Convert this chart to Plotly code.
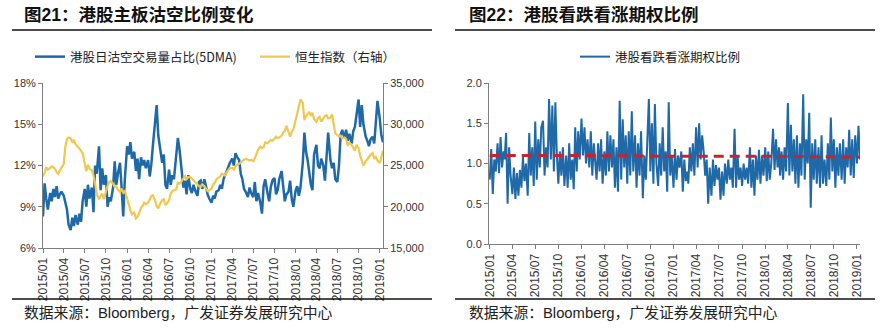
import plotly.graph_objects as go
import datetime as dt

W, H = 886, 328

# ---------------- data ----------------
# Fig 21: HK short-selling ratio (5DMA, %) - 4 readings per month, Jan 2015 .. mid Jan 2019
short_ratio = [
    # 2015
    8.3, 10.7, 9.6, 8.8,
    10.0, 9.4, 10.3, 9.7,
    10.5, 9.6, 9.9, 10.1,
    9.8, 9.2, 8.8, 7.7,
    7.3, 8.2, 7.6, 8.4,
    7.7, 8.5, 7.9, 9.4,
    10.3, 9.0, 10.6, 9.6,
    10.4, 8.6, 12.0, 11.4,
    13.4, 10.2, 11.8, 10.6,
    11.3, 9.0, 9.7, 9.4,
    10.4, 12.3, 10.6, 11.4,
    12.2, 10.4, 8.3, 11.0,
    # 2016
    13.4, 12.8, 13.7, 12.5,
    13.0, 11.6, 12.5, 11.0,
    12.6, 12.0, 12.4, 11.8,
    12.4, 11.2, 12.1, 13.5,
    15.0, 16.4, 14.2, 13.3,
    12.2, 12.8, 10.6, 10.3,
    11.7, 10.6, 11.3, 11.0,
    12.6, 14.0, 13.2, 11.8,
    10.4, 10.9, 9.9, 11.3,
    10.3, 10.0, 10.6, 10.2,
    9.8, 10.8, 10.9, 10.3,
    11.0, 10.5, 9.9, 9.6,
    # 2017
    9.3, 9.8, 9.6, 10.1,
    10.2, 10.6, 10.3, 11.0,
    11.3, 11.6, 12.0, 12.2,
    12.5, 12.0, 12.9, 12.6,
    12.4, 11.4, 11.0, 10.3,
    10.0, 9.7, 10.4, 10.0,
    9.7, 10.8, 9.4, 10.0,
    9.3, 8.5, 10.5, 11.0,
    10.0, 9.4, 10.4, 10.9,
    11.1, 9.9, 10.2, 11.0,
    11.6, 10.4, 9.4, 9.9,
    10.1, 10.9, 9.6, 9.0,
    # 2018
    10.2, 10.5, 9.8, 10.4,
    12.2, 14.4, 13.0, 12.4,
    11.6, 10.6, 10.2, 12.8,
    13.5, 12.0, 11.8, 12.5,
    12.0, 10.9, 12.6, 14.4,
    12.4, 11.8, 12.2, 11.0,
    10.8, 12.0, 14.2, 14.6,
    14.0, 14.6, 13.8, 14.3,
    13.6, 14.5, 14.8, 15.8,
    16.8, 14.8, 16.4, 15.0,
    14.1, 13.8, 13.4, 13.9,
    14.1, 13.6, 15.2, 16.7,
    # 2019
    15.4, 14.2, 13.7,
]

# Hang Seng Index (right axis) - same sampling
hsi = [
    # 2015
    23700, 24100, 24800, 24500,
    24700, 24900, 24800, 24600,
    24200, 24000, 24400, 24700,
    25200, 27300, 28200, 28400,
    28300, 27800, 28100, 27600,
    27300, 27100, 26800, 26500,
    25000, 24300, 25100, 24600,
    24400, 23800, 22800, 21500,
    21000, 21400, 21600, 20900,
    21900, 22500, 23000, 23100,
    22800, 22400, 22500, 22100,
    21800, 22200, 21700, 21900,
    # 2016
    21000, 20100, 19600, 19100,
    19300, 18600, 18800, 19200,
    19900, 20100, 20500, 20300,
    20500, 20900, 21300, 21400,
    20800, 20100, 19800, 20300,
    20800, 20900, 20200, 20400,
    20800, 21600, 21900, 22000,
    22100, 22900, 22800, 23000,
    23400, 23700, 23300, 23600,
    23600, 23400, 23200, 22900,
    22700, 22500, 22400, 22700,
    22500, 22100, 21900, 22000,
    # 2017
    22200, 22700, 22900, 23300,
    23500, 23700, 24000, 23900,
    23800, 24200, 24500, 24700,
    24700, 24500, 24900, 25100,
    25200, 25400, 25500, 25700,
    25800, 25700, 25600, 25700,
    25500, 25900, 26500, 26900,
    27300, 27100, 27200, 27800,
    27700, 27900, 28100, 28000,
    28200, 28500, 28300, 28400,
    28600, 29000, 29200, 29800,
    29000, 28500, 29100, 29400,
    # 2018
    30500, 31300, 32000, 33000,
    32600, 30500, 31000, 31300,
    31500, 31000, 31400, 30600,
    30300, 30700, 30900, 30300,
    30700, 31000, 31100, 30700,
    30800, 31200, 30000, 28900,
    28700, 28500, 28600, 28300,
    28400, 28200, 27400, 27800,
    27500, 27100, 26800, 27500,
    27100, 26200, 25500, 25000,
    25500, 25800, 26000, 26300,
    26500, 25900, 26000, 25600,
    # 2019
    25300, 26000, 26800,
]

# Fig 22: HK put/call ratio - 5 readings per month
put_call = [
    # 2015
    0.80, 1.18, 0.62, 1.05, 0.90,
    1.25, 0.88, 1.33, 0.95, 1.15,
    1.05, 1.38, 0.50, 1.20, 0.85,
    0.62, 0.95, 0.56, 0.88, 0.60,
    0.92, 0.70, 1.08, 0.78, 1.00,
    0.60, 1.38, 0.85, 1.20, 0.72,
    1.52, 0.80, 1.30, 0.95, 1.45,
    1.53, 0.85, 1.20, 0.95, 1.80,
    1.05, 1.72, 0.90, 1.76, 1.10,
    0.75, 1.15, 0.85, 1.20, 0.72,
    1.10, 0.70, 1.25, 0.80, 1.05,
    0.68, 1.45, 0.90, 1.40, 1.05,
    # 2016
    1.56, 1.10, 1.45, 1.00, 1.30,
    0.95, 1.40, 0.85, 1.25, 1.05,
    0.80, 1.25, 0.90, 1.30, 0.75,
    1.15, 0.85, 1.40, 0.90, 1.35,
    0.95, 1.30, 0.70, 1.20, 0.65,
    1.78, 0.80, 1.55, 0.95, 1.35,
    0.75, 1.40, 0.85, 1.65, 0.90,
    1.35, 0.70, 1.25, 0.85, 1.40,
    0.57, 1.10, 0.80, 1.30, 1.80,
    0.90, 1.50, 0.75, 1.74, 1.00,
    0.72, 1.25, 0.85, 1.45, 0.90,
    1.15, 0.65, 1.76, 0.85, 1.10,
    # 2017
    0.70, 1.18, 0.80, 1.10, 0.95,
    1.15, 0.65, 1.05, 0.78, 0.90,
    0.75, 1.20, 0.90, 1.25, 0.85,
    1.45, 0.95, 1.50, 1.05, 1.35,
    1.15, 0.85, 1.05, 0.50, 0.95,
    0.60, 1.05, 0.72, 0.98, 0.80,
    0.95, 0.55, 0.90, 0.60, 1.00,
    0.75, 1.05, 0.80, 0.95, 0.70,
    1.43, 0.70, 1.10, 0.80, 0.95,
    0.72, 1.00, 0.80, 0.95, 0.75,
    1.20, 0.70, 1.05, 0.60, 1.10,
    0.80, 1.17, 0.75, 1.10, 0.85,
    # 2018
    1.20, 0.78, 1.15, 0.80, 1.00,
    1.43, 0.92, 1.30, 0.95, 1.20,
    0.85, 1.15, 0.80, 1.20, 0.90,
    1.75, 0.85, 1.48, 0.90, 1.30,
    0.75, 1.35, 0.70, 1.25, 0.85,
    1.86, 0.80, 1.30, 1.00, 1.63,
    0.45, 1.25, 0.80, 1.30, 0.75,
    1.20, 0.70, 1.35, 0.75, 1.05,
    0.72, 1.25, 0.80, 1.57, 0.90,
    1.30, 0.70, 1.20, 0.85, 1.25,
    0.80, 1.30, 0.75, 1.20, 0.95,
    1.42, 0.85, 1.30, 0.82, 1.35,
    # 2019
    1.00, 1.47, 1.05,
]

# long-run average of the put/call ratio (red dashed line)
avg_dates = ["2015-01-01", "2016-01-01", "2017-01-01", "2018-01-01", "2019-01-13"]
avg_values = [1.10, 1.10, 1.09, 1.09, 1.08]

days_4 = [1, 8, 15, 22]
days_5 = [1, 7, 13, 19, 25]


def sample_dates(days, n):
    out = []
    y, m = 2015, 1
    while len(out) < n:
        for d in days:
            if len(out) < n:
                out.append(dt.date(y, m, d))
        m += 1
        if m > 12:
            m, y = 1, y + 1
    return out


dates_left = sample_dates(days_4, len(short_ratio))
dates_right = sample_dates(days_5, len(put_call))

BLUE = "#1F69A8"
GOLD = "#F0C850"
RED = "#C8232C"
AX = "#7F7F7F"
TXT = "#333333"
FONT = "Liberation Sans, Arial, 'Noto Sans CJK SC', sans-serif"
CJK = "'Noto Sans CJK SC', 'Liberation Sans', sans-serif"

fig = go.Figure()
fig.add_trace(go.Scatter(x=dates_left, y=short_ratio, mode="lines", name="港股日沽空交易量占比(5DMA)",
                         line=dict(color=BLUE, width=2.5), xaxis="x", yaxis="y", legend="legend"))
fig.add_trace(go.Scatter(x=dates_left, y=hsi, mode="lines", name="恒生指数（右轴）",
                         line=dict(color=GOLD, width=2.2), xaxis="x", yaxis="y2", legend="legend"))
fig.add_trace(go.Scatter(x=dates_right, y=put_call, mode="lines", name="港股看跌看涨期权比例",
                         line=dict(color=BLUE, width=2), xaxis="x2", yaxis="y3", legend="legend2"))
fig.add_trace(go.Scatter(x=avg_dates, y=avg_values, mode="lines", showlegend=False,
                         line=dict(color=RED, width=3, dash="10px,6px"), xaxis="x2", yaxis="y3"))


def px(x):
    return x / W


def py(y):
    return 1 - y / H


xcommon = dict(type="date", tickformat="%Y/%m", dtick="M3", tick0="2015-01-01", tickangle=-90,
               ticks="outside", ticklen=4, tickcolor=AX, showline=True, linecolor=AX, linewidth=1,
               showgrid=False, zeroline=False, tickfont=dict(size=12, color=TXT, family=FONT),
               automargin=False, fixedrange=True)
ycommon = dict(ticks="outside", ticklen=4, tickcolor=AX, showline=True, linecolor=AX, linewidth=1,
               showgrid=False, zeroline=False, tickfont=dict(size=11, color=TXT, family=FONT),
               automargin=False, fixedrange=True)

fig.update_layout(
    width=W, height=H, margin=dict(l=0, r=0, t=0, b=0),
    paper_bgcolor="white", plot_bgcolor="white",
    xaxis=dict(xcommon, domain=[px(43), px(383)], anchor="y", range=["2015-01-01", "2019-01-15"]),
    yaxis=dict(ycommon, domain=[py(248), py(83)], range=[6, 18], tickvals=[6, 9, 12, 15, 18],
               ticktext=["6%", "9%", "12%", "15%", "18%"]),
    yaxis2=dict(ycommon, overlaying="y", side="right", anchor="x", range=[15000, 35000],
                tickvals=[15000, 20000, 25000, 30000, 35000], tickformat=","),
    xaxis2=dict(xcommon, domain=[px(489), px(860)], anchor="y3", range=["2014-12-29", "2019-01-13"]),
    yaxis3=dict(ycommon, domain=[py(244), py(83)], anchor="x2", range=[0, 2],
                tickvals=[0, 0.5, 1.0, 1.5, 2.0], tickformat=".1f"),
    legend=dict(orientation="h", x=px(30), xanchor="left", y=py(57), yanchor="middle",
                font=dict(size=12.5, color="#222222", family=CJK), bgcolor="rgba(0,0,0,0)",
                entrywidth=180, entrywidthmode="pixels", itemwidth=30),
    legend2=dict(orientation="h", x=px(575), xanchor="left", y=py(57), yanchor="middle",
                 font=dict(size=12.5, color="#222222", family=CJK), bgcolor="rgba(0,0,0,0)",
                 itemwidth=30),
    showlegend=True,
)

# titles, separators and sources
for x0, x1, tx, title in [(12, 432, 22, "图21：港股主板沽空比例变化"),
                          (455, 875, 467, "图22：港股看跌看涨期权比例")]:
    fig.add_annotation(x=px(tx), y=py(15), xref="paper", yref="paper", xanchor="left", yanchor="middle",
                       text="<b>" + title + "</b>", showarrow=False,
                       font=dict(size=17.5, color="#111111", family=FONT))
    fig.add_shape(type="line", xref="paper", yref="paper", x0=px(x0), x1=px(x1), y0=py(30), y1=py(30),
                  line=dict(color="#111111", width=1.5))
    fig.add_shape(type="line", xref="paper", yref="paper", x0=px(x0), x1=px(x1), y0=py(299), y1=py(299),
                  line=dict(color="#111111", width=1.5))
    fig.add_annotation(x=px(tx), y=py(313), xref="paper", yref="paper", xanchor="left", yanchor="middle",
                       text="数据来源：Bloomberg，广发证券发展研究中心", showarrow=False,
                       font=dict(size=14.8, color="#222222", family=FONT))

fig.write_html("out.html")
